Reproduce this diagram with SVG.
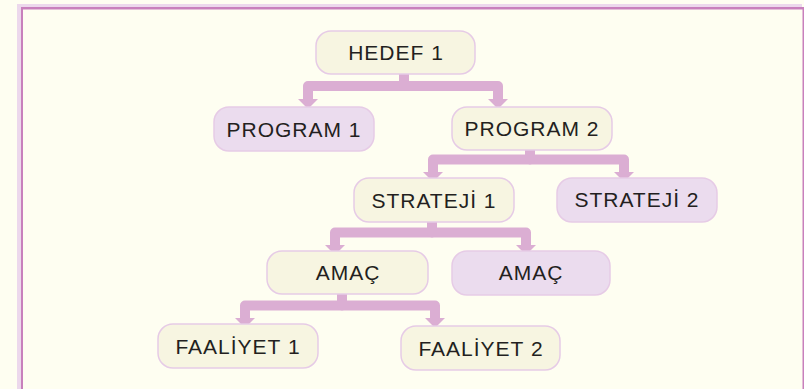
<svg xmlns="http://www.w3.org/2000/svg" width="804" height="389" viewBox="0 0 804 389">
<defs>
<style>
.bg{fill:#fefef1}
.n rect{stroke:#e6cbe6;stroke-width:1.5}
.cream rect{fill:#f7f5e1}
.lav rect{fill:#ebdcee}
.n text{font-family:"Liberation Sans",Arial,sans-serif;font-size:21px;letter-spacing:1px;fill:#231f20;text-anchor:middle}
.c path{fill:none;stroke:#dbaed3;stroke-width:10;stroke-linejoin:round;marker-end:url(#ah)}
</style>
<marker id="ah" viewBox="0 0 10 20" refX="0" refY="10" markerWidth="10" markerHeight="20" markerUnits="userSpaceOnUse" orient="auto">
<path d="M0,0 L10,10 L0,20 z" fill="#dbaed3"/>
</marker>
</defs>
<rect class="bg" x="0" y="0" width="804" height="389"/>
<rect x="17" y="4" width="785" height="385" fill="#ecd8ec"/>
<rect x="21" y="7" width="783" height="382" fill="#c880bc"/>
<rect class="bg" x="23" y="9.5" width="779.5" height="380"/>

<g id="connectors" class="c">
<path d="M404,74 V86 H308 V99"/>
<path d="M404,74 V86 H498 V99"/>
<path d="M530,150 V159.5 H433 V172"/>
<path d="M530,150 V159.5 H624 V172"/>
<path d="M432,222 V232.5 H335 V245"/>
<path d="M432,222 V232.5 H526 V245"/>
<path d="M342,294 V305.5 H245 V318"/>
<path d="M342,294 V305.5 H435 V318"/>
</g>

<g id="hedef1" class="n cream"><rect x="316" y="31" width="159" height="43" rx="15"/><text x="396" y="60">HEDEF 1</text></g>
<g id="program1" class="n lav"><rect x="214" y="107" width="160" height="44" rx="15"/><text x="294" y="137">PROGRAM 1</text></g>
<g id="program2" class="n cream"><rect x="452" y="107" width="160" height="43" rx="15"/><text x="532" y="136">PROGRAM 2</text></g>
<g id="strateji1" class="n cream"><rect x="354" y="178" width="160" height="44" rx="15"/><text x="434" y="208">STRATEJİ 1</text></g>
<g id="strateji2" class="n lav"><rect x="557" y="178" width="160" height="44" rx="15"/><text x="637" y="207">STRATEJİ 2</text></g>
<g id="amac1" class="n cream"><rect x="267" y="251" width="161" height="43" rx="15"/><text x="348" y="280">AMAÇ</text></g>
<g id="amac2" class="n lav"><rect x="452" y="251" width="158" height="44" rx="15"/><text x="531" y="280">AMAÇ</text></g>
<g id="faaliyet1" class="n cream"><rect x="158" y="324" width="160" height="44" rx="15"/><text x="238" y="354">FAALİYET 1</text></g>
<g id="faaliyet2" class="n cream"><rect x="401" y="326" width="159" height="44" rx="15"/><text x="481" y="356">FAALİYET 2</text></g>
</svg>
